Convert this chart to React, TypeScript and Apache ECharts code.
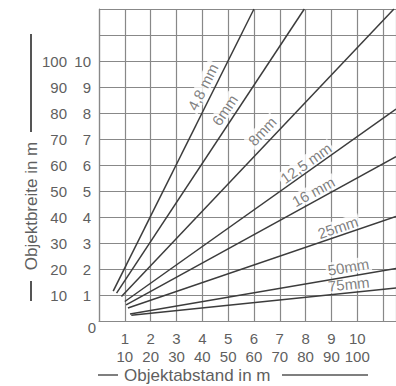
import React, { useEffect, useRef } from "react";
import * as echarts from "echarts";

// Lens focal lengths (line labels)
const lensNames = ["4,8 mm", "6mm", "8mm", "12,5 mm", "16 mm", "25mm", "50mm", "75mm"];
// Line start / end points (x: Objektabstand /10 m, y: Objektbreite /10 m)
const startX = [0.55, 0.68, 0.87, 1.0, 1.05, 1.12, 1.2, 1.25];
const startY = [1.15, 1.07, 0.94, 0.75, 0.62, 0.5, 0.27, 0.22];
const endX = [6.0, 7.95, 11.42, 11.5, 11.5, 11.5, 11.5, 11.5];
const endY = [12, 12, 12, 8.15, 6.32, 4.02, 2.02, 1.27];
// Label anchor positions along each line
const labelX = [4.02, 4.87, 6.32, 8.01, 8.3, 9.25, 9.66, 9.67];
const labelY = [9.0, 8.11, 7.3, 6.07, 4.97, 3.6, 2.08, 1.42];

// Tick labels
const xTopLabels = ["1", "2", "3", "4", "5", "6", "7", "8", "9", "10"];
const xBottomLabels = ["10", "20", "30", "40", "50", "60", "70", "80", "90", "100"];
const yInnerLabels = ["1", "2", "3", "4", "5", "6", "7", "8", "9", "10"];
const yOuterLabels = ["10", "20", "30", "40", "50", "60", "70", "80", "90", "100"];

const FONT = "'Liberation Sans', Arial, Helvetica, sans-serif";
const TEXT = "#5f5f5f";
const GRIDC = "#888888";
const LINEC = "#3c3c3c";

export default function App() {
  const ref = useRef<HTMLDivElement>(null);
  useEffect(() => {
    if (!ref.current) return;
    const chart = echarts.init(ref.current, null, { renderer: "svg" });

    const lineSeries = lensNames.map((name, i) => ({
      type: "line",
      name,
      z: 3,
      symbol: "none",
      silent: true,
      lineStyle: { color: LINEC, width: 1.5 },
      data: [
        [startX[i], startY[i]],
        [endX[i], endY[i]],
      ],
    }));

    const labelData = lensNames.map((name, i) => {
      const ang = (Math.atan2(endY[i] - startY[i], endX[i] - startX[i]) * 180) / Math.PI;
      return {
        value: [labelX[i], labelY[i]],
        name,
        label: { rotate: ang },
      };
    });

    const option: any = {
      animation: false,
      backgroundColor: "#fff",
      grid: { left: 99, top: 9, right: -2, bottom: 65, containLabel: false },
      xAxis: [
        {
          type: "value",
          min: 0,
          max: 11.5,
          interval: 1,
          axisLine: { show: true, lineStyle: { color: GRIDC, width: 1.2 } },
          axisTick: { show: false },
          splitLine: { show: true, lineStyle: { color: GRIDC, width: 1.2 } },
          axisLabel: {
            margin: 8,
            color: TEXT,
            fontFamily: FONT,
            fontSize: 15,
            lineHeight: 18,
            showMaxLabel: false,
            formatter: (v: number) =>
              v >= 1 && v <= 10 && Number.isInteger(v)
                ? `${xTopLabels[v - 1]}\n${xBottomLabels[v - 1]}`
                : "",
          },
        },
      ],
      yAxis: [
        {
          type: "value",
          min: 0,
          max: 12,
          interval: 1,
          position: "left",
          axisLine: { show: true, lineStyle: { color: GRIDC, width: 1.2 } },
          axisTick: { show: false },
          splitLine: { show: true, lineStyle: { color: GRIDC, width: 1.2 } },
          axisLabel: {
            margin: 8,
            color: TEXT,
            fontFamily: FONT,
            fontSize: 15,
            formatter: (v: number) =>
              v >= 1 && v <= 10 && Number.isInteger(v) ? yInnerLabels[v - 1] : "",
          },
        },
        {
          type: "value",
          min: 0,
          max: 12,
          interval: 1,
          position: "left",
          offset: 24,
          axisLine: { show: false },
          axisTick: { show: false },
          splitLine: { show: false },
          axisLabel: {
            margin: 8,
            color: TEXT,
            fontFamily: FONT,
            fontSize: 15,
            formatter: (v: number) =>
              v >= 1 && v <= 10 && Number.isInteger(v) ? yOuterLabels[v - 1] : "",
          },
        },
      ],
      series: [
        ...lineSeries,
        {
          type: "scatter",
          z: 2,
          symbolSize: 0,
          silent: true,
          data: labelData,
          label: {
            show: true,
            position: "inside",
            formatter: (p: any) => p.name,
            color: TEXT,
            fontFamily: FONT,
            fontSize: 15,
            backgroundColor: "#fff",
            padding: [0, 2],
          },
        },
      ],
      graphic: [
        {
          type: "text",
          x: 92,
          y: 327,
          style: {
            text: "0",
            fill: TEXT,
            font: `15px ${FONT}`,
            align: "center",
            verticalAlign: "middle",
          },
        },
        // x-axis title
        {
          type: "line",
          shape: { x1: 98, y1: 375, x2: 118, y2: 375 },
          style: { stroke: "#555", lineWidth: 1.5 },
        },
        {
          type: "text",
          x: 124,
          y: 375,
          style: {
            text: "Objektabstand in m",
            fill: TEXT,
            font: `17px ${FONT}`,
            align: "left",
            verticalAlign: "middle",
          },
        },
        {
          type: "line",
          shape: { x1: 282, y1: 375, x2: 368, y2: 375 },
          style: { stroke: "#555", lineWidth: 1.5 },
        },
        // y-axis title
        {
          type: "line",
          shape: { x1: 31, y1: 281, x2: 31, y2: 301 },
          style: { stroke: "#555", lineWidth: 2 },
        },
        {
          type: "text",
          x: 31,
          y: 206,
          rotation: Math.PI / 2,
          style: {
            text: "Objektbreite in m",
            fill: TEXT,
            font: `17px ${FONT}`,
            align: "center",
            verticalAlign: "middle",
          },
        },
        {
          type: "line",
          shape: { x1: 31, y1: 34, x2: 31, y2: 132 },
          style: { stroke: "#555", lineWidth: 2 },
        },
      ],
    };
    chart.setOption(option);
    return () => chart.dispose();
  }, []);
  return (
    <div
      ref={ref}
      style={{ position: "fixed", left: 0, top: 0, width: 396, height: 386 }}
    />
  );
}
